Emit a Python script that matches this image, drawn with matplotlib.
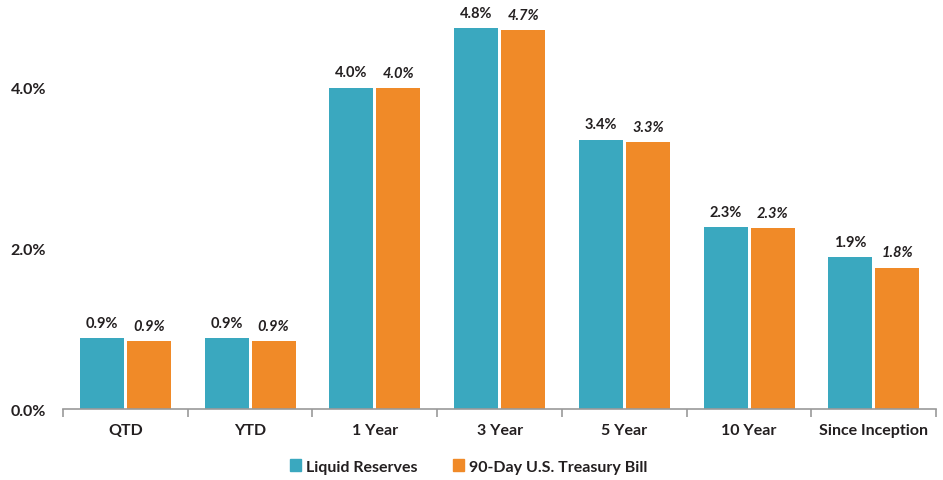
import numpy as np
import matplotlib.pyplot as plt
from matplotlib.patches import Patch

categories = ['QTD', 'YTD', '1 Year', '3 Year', '5 Year', '10 Year', 'Since Inception']
liquid = [0.88, 0.88, 4.00, 4.74, 3.35, 2.26, 1.89]
tbill = [0.84, 0.84, 3.99, 4.71, 3.32, 2.25, 1.76]
liquid_lbl = ['0.9%', '0.9%', '4.0%', '4.8%', '3.4%', '2.3%', '1.9%']
tbill_lbl = ['0.9%', '0.9%', '4.0%', '4.7%', '3.3%', '2.3%', '1.8%']
yticks = [0.0, 2.0, 4.0]

teal = '#3AA8BF'
orange = '#F08A28'
ink = '#231F20'

plt.rcParams['font.family'] = ['Lato', 'DejaVu Sans']

fig = plt.figure(figsize=(9.43, 4.81), dpi=100)
ax = fig.add_axes([0.0668, 0.1476, 0.926, 0.8354])

x = np.arange(len(categories))
off = 0.188
w = 0.353
ax.bar(x - off, liquid, w, color=teal, edgecolor='none')
ax.bar(x + off, tbill, w, color=orange, edgecolor='none')

# value labels: plain for the fund, italic for the benchmark
for xi, v, s in zip(x, liquid, liquid_lbl):
    ax.annotate(s, (xi - off, v), xytext=(0, 6), textcoords='offset points',
                ha='center', va='bottom', fontsize=10.5, fontweight='bold', color=ink)
for xi, v, s in zip(x, tbill, tbill_lbl):
    ax.annotate(s, (xi + off, v), xytext=(0, 6), textcoords='offset points',
                ha='center', va='bottom', fontsize=10.5, fontweight='bold',
                fontstyle='italic', color=ink)

ax.set_xlim(-0.5, len(categories) - 0.5)
ax.set_ylim(0, 5.0)
ax.set_yticks(yticks)
ax.set_yticklabels(['%.1f%%' % t for t in yticks], fontsize=11.5, fontweight='bold', color=ink)
ax.tick_params(axis='y', length=0, pad=12)

ax.set_xticks(x)
ax.set_xticklabels(categories, fontsize=11.5, fontweight='bold', color=ink)
ax.tick_params(axis='x', which='major', length=0, pad=10)
ax.set_xticks(np.arange(-0.5, len(categories)), minor=True)
ax.tick_params(axis='x', which='minor', length=6, width=1.2, color='#999999', direction='out')

for sp in ['top', 'right', 'left']:
    ax.spines[sp].set_visible(False)
ax.spines['bottom'].set_color('#999999')
ax.spines['bottom'].set_linewidth(1.2)

handles = [Patch(color=teal, label='Liquid Reserves'),
           Patch(color=orange, label='90-Day U.S. Treasury Bill')]
leg = fig.legend(handles=handles, loc='center', bbox_to_anchor=(0.497, 0.028), ncol=2,
                 frameon=False, handlelength=0.7, handleheight=0.7, handletextpad=0.3,
                 columnspacing=2.2, prop={'size': 11.5, 'weight': 'bold'})
for t in leg.get_texts():
    t.set_color(ink)

fig.savefig('out.png', dpi=100)
